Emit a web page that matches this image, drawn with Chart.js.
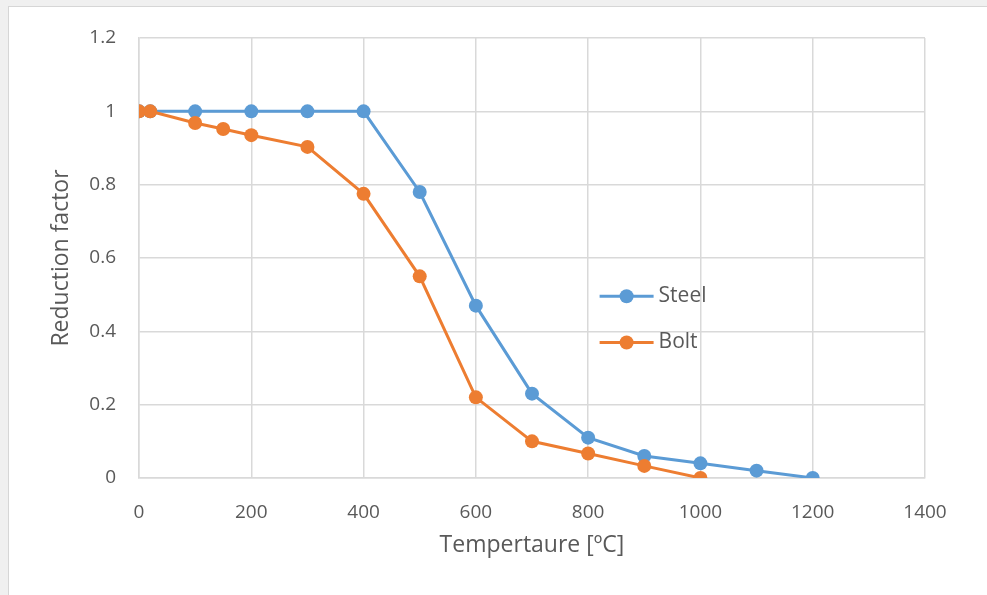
<!DOCTYPE html>
<html>
<head>
<meta charset="utf-8">
<script src="https://cdn.jsdelivr.net/npm/chart.js@4.4.1/dist/chart.umd.min.js"></script>
<style>
    html, body { margin: 0; padding: 0; background: #f0f0f0; width: 987px; height: 595px; overflow: hidden; }
    #frame {
        position: absolute; left: 8px; top: 6px; width: 979px; height: 589px;
        background: #ffffff; border-left: 1px solid #d6d6d6; border-top: 1px solid #d6d6d6;
    }
    #reductionChart { position: absolute; left: 0; top: 0; }
</style>
</head>
<body>
<div id="frame"><canvas id="reductionChart" width="978" height="588"></canvas></div>
<script>
// reduction factors against temperature
const steelTemps = [0, 20, 100, 200, 300, 400, 500, 600, 700, 800, 900, 1000, 1100, 1200];
const steelFactors = [1, 1, 1, 1, 1, 1, 0.78, 0.47, 0.23, 0.11, 0.06, 0.04, 0.02, 0];
const boltTemps = [0, 20, 100, 150, 200, 300, 400, 500, 600, 700, 800, 900, 1000];
const boltFactors = [1, 1, 0.968, 0.952, 0.935, 0.903, 0.775, 0.55, 0.22, 0.1, 0.067, 0.033, 0];
const xTicks = [0, 200, 400, 600, 800, 1000, 1200, 1400];
const yTicks = [0, 0.2, 0.4, 0.6, 0.8, 1, 1.2];

const FONT = "'Open Sans', 'Noto Sans', sans-serif";
const GRID = '#d9d9d9';
const TEXT = '#595959';

function toPoints(xs, ys) {
    return xs.map((x, i) => ({ x: x, y: ys[i] }));
}

function series(label, xs, ys, color, order) {
    return {
        label: label,
        data: toPoints(xs, ys),
        showLine: true,
        borderColor: color,
        backgroundColor: color,
        borderWidth: 3,
        pointRadius: 7,
        pointBorderWidth: 0,
        tension: 0,
        order: order
    };
}

// legend sits inside the plot, right of centre
const innerLegend = {
    id: 'innerLegend',
    afterDraw(chart) {
        const ctx = chart.ctx;
        const area = chart.chartArea;
        const x0 = area.left + (area.right - area.left) * 0.586;
        const rows = chart.data.datasets;
        ctx.save();
        rows.forEach((ds, i) => {
            const y = area.top + (area.bottom - area.top) * (0.587 + i * 0.105);
            ctx.strokeStyle = ds.borderColor;
            ctx.lineWidth = 3;
            ctx.beginPath();
            ctx.moveTo(x0, y);
            ctx.lineTo(x0 + 54, y);
            ctx.stroke();
            ctx.fillStyle = ds.backgroundColor;
            ctx.beginPath();
            ctx.arc(x0 + 27, y, 7, 0, Math.PI * 2);
            ctx.fill();
            ctx.fillStyle = TEXT;
            ctx.font = '21px ' + FONT;
            ctx.textAlign = 'left';
            ctx.textBaseline = 'middle';
            ctx.fillText(ds.label, x0 + 59, y);
        });
        ctx.restore();
    }
};

const ctx = document.getElementById('reductionChart').getContext('2d');
new Chart(ctx, {
    type: 'scatter',
    data: {
        datasets: [
            series('Steel', steelTemps, steelFactors, '#5b9bd5', 1),
            series('Bolt', boltTemps, boltFactors, '#ed7d31', 0)
        ]
    },
    options: {
        responsive: false,
        animation: false,
        layout: { padding: { left: 30, right: 62, top: 31, bottom: 0 } },
        plugins: {
            legend: { display: false },
            tooltip: { enabled: false }
        },
        scales: {
            x: {
                type: 'linear',
                min: 0,
                max: 1400,
                afterBuildTicks: (axis) => { axis.ticks = xTicks.map(v => ({ value: v })); },
                afterFit: (axis) => {
                    axis.height = 117;
                    axis.paddingLeft = 0;
                    axis.paddingRight = 0;
                },
                grid: { color: GRID, lineWidth: 1.5, drawTicks: false },
                border: { color: GRID, width: 1.5 },
                ticks: {
                    color: TEXT,
                    font: { family: FONT, size: 19 },
                    padding: 23,
                    callback: (v) => String(v)
                },
                title: {
                    display: true,
                    text: 'Tempertaure [ºC]',
                    color: TEXT,
                    font: { family: FONT, size: 23 },
                    padding: { top: 0, bottom: 36 }
                }
            },
            y: {
                type: 'linear',
                min: 0,
                max: 1.2,
                afterBuildTicks: (axis) => { axis.ticks = yTicks.map(v => ({ value: v })); },
                afterFit: (axis) => {
                    axis.width = 100;
                    axis.paddingTop = 0;
                    axis.paddingBottom = 0;
                },
                grid: { color: GRID, lineWidth: 1.5, drawTicks: false },
                border: { color: GRID, width: 1.5 },
                ticks: {
                    color: TEXT,
                    font: { family: FONT, size: 19 },
                    padding: 23,
                    callback: (v) => String(v)
                },
                title: {
                    display: true,
                    text: 'Reduction factor',
                    color: TEXT,
                    font: { family: FONT, size: 23 },
                    padding: { top: 9, bottom: 0 }
                }
            }
        }
    },
    plugins: [innerLegend]
});
</script>
</body>
</html>
